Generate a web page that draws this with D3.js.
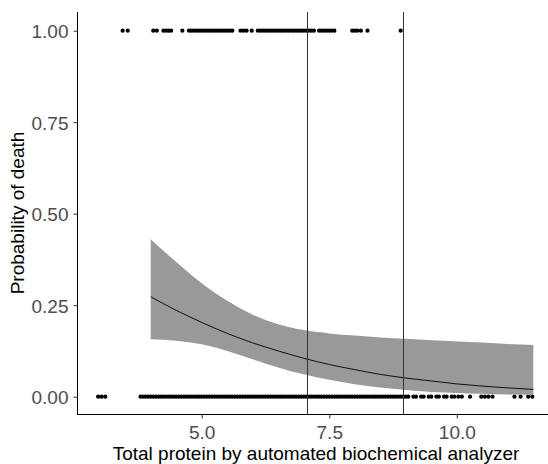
<!DOCTYPE html>
<html>
<head>
<meta charset="utf-8">
<script src="https://cdn.jsdelivr.net/npm/d3@7"></script>
<style>
  html, body { margin: 0; padding: 0; background: #fff; }
  svg { display: block; }
  text { font-family: "Liberation Sans", Arial, sans-serif; }
</style>
</head>
<body>
<svg id="chart" width="548" height="464"></svg>
<script>
// ---- data ----
const deathX = [3.45,3.55,4.05,4.12,4.25,4.3,4.35,4.4,4.62,4.75,4.8,4.85,4.9,4.95,5,5.05,5.1,5.15,5.2,5.25,5.3,5.35,5.4,5.45,5.5,5.55,5.6,5.76,5.82,5.88,5.98,6.1,6.15,6.2,6.25,6.3,6.35,6.4,6.45,6.5,6.55,6.6,6.65,6.7,6.75,6.8,6.85,6.9,6.95,7,7.05,7.1,7.15,7.2,7.3,7.35,7.4,7.45,7.5,7.55,7.6,7.95,8.0,8.05,8.12,8.25,8.9];
const surviveX = [2.97,3.04,3.11,
  3.8,3.85,3.9,3.95,4,4.05,4.1,4.15,4.2,4.25,4.3,4.35,4.4,4.45,4.5,4.55,4.6,4.65,4.7,4.75,4.8,4.85,4.9,4.95,
  5,5.05,5.1,5.15,5.2,5.25,5.3,5.35,5.4,5.45,5.5,5.55,5.6,5.65,5.7,5.75,5.8,5.85,5.9,5.95,
  6,6.05,6.1,6.15,6.2,6.25,6.3,6.35,6.4,6.45,6.5,6.55,6.6,6.65,6.7,6.75,6.8,6.85,6.9,6.95,
  7,7.05,7.1,7.15,7.2,7.25,7.3,7.35,7.4,7.45,7.5,7.55,7.6,7.65,7.7,7.75,7.8,7.85,7.9,7.95,
  8,8.05,8.1,8.15,8.2,8.25,8.3,8.35,8.4,8.45,8.5,8.55,8.6,8.65,8.7,8.75,8.8,8.85,8.9,8.95,
  9,9.05,9.15,9.2,9.3,9.35,9.45,9.5,9.6,9.65,9.75,9.8,9.9,9.95,
  10.03,10.1,10.26,10.48,10.55,10.62,10.7,11.13,11.25,11.4,11.48];
const fitX     = [4.0,4.5,5.0,5.5,6.0,6.5,7.0,7.5,8.0,8.5,9.0,9.5,10.0,10.5,11.0,11.5];
const fitY     = [0.273,0.236,0.203,0.173,0.147,0.125,0.105,0.088,0.074,0.061,0.051,0.043,0.035,0.029,0.024,0.020];
const fitLower = [0.157,0.153,0.143,0.125,0.102,0.080,0.061,0.046,0.034,0.025,0.018,0.013,0.010,0.008,0.006,0.005];
const fitUpper = [0.430,0.368,0.310,0.262,0.224,0.198,0.182,0.173,0.167,0.162,0.158,0.154,0.151,0.148,0.144,0.141];
const cutoffs  = [7.07, 8.94];
const xTicks   = [5, 7.5, 10];
const yTicks   = [0, 0.25, 0.5, 0.75, 1];

// ---- layout ----
const svg = d3.select("#chart");
const x = d3.scaleLinear().domain([2.575, 11.925]).range([78, 555]);
const y = d3.scaleLinear().domain([-0.05, 1.05]).range([415, 12.4]);

const pts = deathX.map(v => ({x: v, y: 1})).concat(surviveX.map(v => ({x: v, y: 0})));
const band = fitX.map((v, i) => ({x: v, f: fitY[i], lo: fitLower[i], hi: fitUpper[i]}));

// points
svg.append("g").selectAll("circle").data(pts).join("circle")
  .attr("cx", d => x(d.x)).attr("cy", d => y(d.y)).attr("r", 2.1).attr("fill", "#000");

// confidence band
svg.append("path").datum(band)
  .attr("fill", "#999999")
  .attr("d", d3.area().x(d => x(d.x)).y0(d => y(d.lo)).y1(d => y(d.hi)).curve(d3.curveMonotoneX));

// fitted line
svg.append("path").datum(band)
  .attr("fill", "none").attr("stroke", "#000").attr("stroke-width", 0.9)
  .attr("d", d3.line().x(d => x(d.x)).y(d => y(d.f)).curve(d3.curveMonotoneX));

// vertical cutoff lines
svg.append("g").selectAll("line").data(cutoffs).join("line")
  .attr("x1", d => Math.round(x(d)) + 0.5).attr("x2", d => Math.round(x(d)) + 0.5)
  .attr("y1", 12).attr("y2", 415)
  .attr("stroke", "#333").attr("stroke-width", 1);

// axes
const xAxis = svg.append("g").attr("transform", "translate(0,414.5)")
  .call(d3.axisBottom(x).tickValues(xTicks).tickFormat(d3.format(".1f")).tickSize(4).tickSizeOuter(0));
const yAxis = svg.append("g").attr("transform", "translate(77.5,0)")
  .call(d3.axisLeft(y).tickValues(yTicks).tickFormat(d3.format(".2f")).tickSize(4).tickSizeOuter(0));

[xAxis, yAxis].forEach(g => {
  g.select(".domain").attr("stroke", "#000").attr("stroke-width", 1);
  g.selectAll(".tick line").attr("stroke", "#333").attr("stroke-width", 1);
  g.selectAll(".tick text").attr("fill", "#4D4D4D")
    .style("font-size", "19px").style("font-family", "'Liberation Sans', Arial, sans-serif");
});
xAxis.selectAll(".tick text").attr("dy", null).attr("y", 24);
yAxis.selectAll(".tick text").attr("x", -9).attr("dy", "0.36em");
xAxis.select(".domain").attr("d", `M77,0H548`);
yAxis.select(".domain").attr("d", `M0,12V415`);

// axis titles
svg.append("text")
  .attr("x", 316).attr("y", 460).attr("text-anchor", "middle")
  .style("font-size", "19px").attr("fill", "#000")
  .text("Total protein by automated biochemical analyzer");
svg.append("text")
  .attr("transform", "translate(24,213) rotate(-90)").attr("text-anchor", "middle")
  .style("font-size", "19px").attr("fill", "#000")
  .text("Probability of death");
</script>
</body>
</html>
